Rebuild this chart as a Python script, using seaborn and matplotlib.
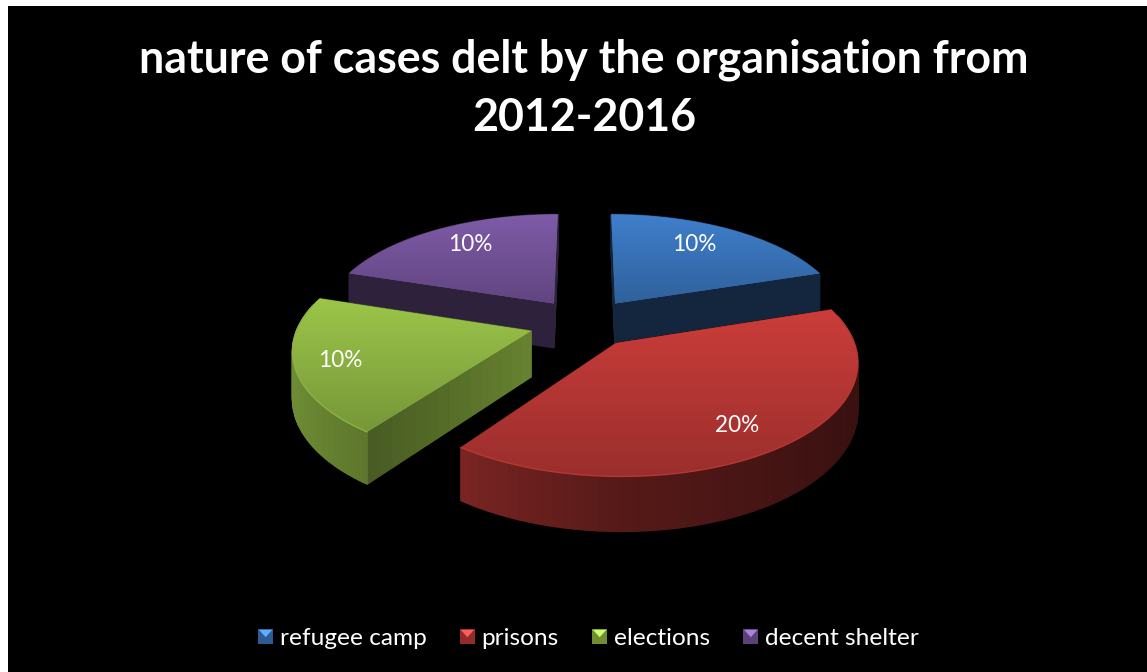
import numpy as np
import seaborn as sns
import matplotlib
matplotlib.use("Agg")
import matplotlib.pyplot as plt
from matplotlib.legend_handler import HandlerBase
from matplotlib.patches import Patch, Polygon, Rectangle
from matplotlib.path import Path
from matplotlib.transforms import Transform

# -----------------------------
# DATA
# -----------------------------
categories = ["refugee camp", "prisons", "elections", "decent shelter"]
cases = [10, 20, 10, 10]
title = "nature of cases delt by the organisation from\n2012-2016"

# -----------------------------
# SETTINGS
# -----------------------------
W, H = 1147, 672
CX, CY = 584.5, 323       # pie centre in pixels
RADIUS = 232
SQUASH = 0.463
PERSP = 0.146
DEPTH = 45.5
EXPLODE = [0.23, 0.225, 0.24, 0.23]
LABEL_SHIFT = [(-14.5, 0), (-3.5, -6), (-7, -4), (10, 0)]

top_colors = sns.color_palette(["#3F7FCC", "#CB3D3A", "#9CC64A", "#7F5BA8"])
# shade of the two straight walls, outer and inner end
cut_shades = [(0.30, 0.30), (0.30, 0.30), (0.46, 0.66), (0.36, 0.36)]
GRAD_LOW = 0.76

sns.set_theme(style="white")
plt.rcParams["font.family"] = ["Lato", "DejaVu Sans"]


def project(x, y, z=0.0):
    w = 1 + PERSP * np.asarray(y) / RADIUS
    return CX + np.asarray(x) / w, CY - SQUASH * np.asarray(y) / w + z * DEPTH / w


class Tilt(Transform):
    """Flat pie plane to picture pixels, with a little perspective."""
    input_dims = 2
    output_dims = 2

    def transform_non_affine(self, xy):
        px, py = project(xy[:, 0], xy[:, 1])
        return np.column_stack([px, py])

    def transform_path_non_affine(self, path):
        verts = np.vstack(path.to_polygons(closed_only=True))
        return Path(self.transform_non_affine(verts))


class BevelSquare(HandlerBase):
    def create_artists(self, legend, orig, xd, yd, width, height, fontsize, trans):
        s = 10.8
        y0 = (height - s) / 2 - yd
        color = np.array(orig.get_facecolor()[:3])
        base = Rectangle((0, y0), s, s, facecolor=color * 0.72, edgecolor="none", transform=trans)
        tri = Polygon([(0.6, y0 + s - 0.6), (s - 0.6, y0 + s - 0.6), (s / 2, y0 + s / 2 - 0.5)],
                      facecolor=np.minimum(color * 1.2 + 0.08, 1), edgecolor="none", transform=trans)
        return [base, tri]


def wall_shade(theta):
    return np.interp(np.cos(np.radians(theta)), [-1, -0.59, 0, 1], [0.72, 0.60, 0.42, 0.27])


# -----------------------------
# FIGURE
# -----------------------------
fig = plt.figure(figsize=(W / 100, H / 100), dpi=100, facecolor="white")
ax = fig.add_axes([8 / W, 0, (W - 8) / W, (H - 6) / H])
ax.set_facecolor("black")

total = sum(cases)
wedges, _, autotexts = ax.pie(
    cases,
    explode=[e * RADIUS for e in EXPLODE],
    startangle=90,
    counterclock=False,
    radius=RADIUS,
    frame=True,
    autopct=lambda p: f"{p * total / 100:.0f}%",
    pctdistance=0.78,
    wedgeprops={"linewidth": 0},
    textprops={"color": "white", "fontsize": 16.3},
)
tilt = Tilt() + ax.transData

# back slices first
order = sorted(range(len(wedges)), key=lambda i: -wedges[i].center[1])
for z, i in enumerate(order):
    wedge = wedges[i]
    cx, cy = wedge.center
    t1, t2 = wedge.theta1, wedge.theta2
    zbase = 10 + z * 10
    top = np.array(top_colors[i])

    # straight walls and the curved wall, far ones first
    pieces = []
    outer, inner = cut_shades[i]
    for theta in (t1, t2):
        ex, ey = cx + RADIUS * np.cos(np.radians(theta)), cy + RADIUS * np.sin(np.radians(theta))
        steps = np.linspace(0, 1, 16)
        for a, b in zip(steps[:-1], steps[1:]):
            xs = np.array([cx + (ex - cx) * a, cx + (ex - cx) * b])
            ys = np.array([cy + (ey - cy) * a, cy + (ey - cy) * b])
            shade = inner + (outer - inner) * (a + b) / 2
            pieces.append((ys.mean(), xs, ys, top * shade))
    thetas = np.linspace(t1, t2, 61)
    for a, b in zip(thetas[:-1], thetas[1:]):
        xs = cx + RADIUS * np.cos(np.radians([a, b]))
        ys = cy + RADIUS * np.sin(np.radians([a, b]))
        pieces.append((ys.mean(), xs, ys, top * wall_shade((a + b) / 2)))
    pieces.sort(key=lambda p: -p[0])
    for _, xs, ys, color in pieces:
        x_top, y_top = project(xs, ys)
        x_low, y_low = project(xs, ys, 1.0)
        ax.fill(np.r_[x_top, x_low[::-1]], np.r_[y_top, y_low[::-1]],
                facecolor=color, edgecolor=color, linewidth=1.0, zorder=zbase)

    # top face: the pie wedge itself with a vertical gradient clipped to it
    wedge.set_transform(tilt)
    wedge.set_facecolor(top * (1 + GRAD_LOW) / 2)
    wedge.set_zorder(zbase + 1)
    px, py = project(*wedge.get_path().vertices.T)
    ramp = np.linspace(1, GRAD_LOW, 256)[:, None, None] * top[None, None, :]
    im = ax.imshow(ramp, extent=[px.min(), px.max(), py.max(), py.min()], aspect="auto",
                   interpolation="bilinear", zorder=zbase + 2)
    im.set_clip_path(wedge)

    # lighter lip along the rim, only on the near side
    edge_t = np.linspace(t1, t2, 80)
    edge_t = edge_t[np.sin(np.radians(edge_t)) < 0.25]
    if len(edge_t):
        rx, ry = project(cx + RADIUS * np.cos(np.radians(edge_t)), cy + RADIUS * np.sin(np.radians(edge_t)))
        lip = top * (GRAD_LOW + 0.14)
        ax.plot(rx, ry, color=lip, lw=1.0, zorder=zbase + 3)

    lx, ly = autotexts[i].get_position()
    autotexts[i].set_position((lx + LABEL_SHIFT[i][0], ly + LABEL_SHIFT[i][1]))
    autotexts[i].set_transform(tilt)
    autotexts[i].set_zorder(100)

ax.set_xlim(8, W)
ax.set_ylim(H, 6)
ax.set_aspect("auto")
ax.set_xticks([])
ax.set_yticks([])
sns.despine(ax=ax, left=True, bottom=True)

ax.text(CX - 0.5, 89, title, color="white", fontsize=32.2, fontweight="bold",
        ha="center", va="center", linespacing=1.46, zorder=100)

handles = [Patch(facecolor=c, label=n) for c, n in zip(top_colors, categories)]
ax.legend(handles=handles, ncol=4, frameon=False, labelcolor="white", fontsize=17.6,
          handler_map={Patch: BevelSquare()}, handlelength=0.61, handleheight=0.7,
          handletextpad=0.28, columnspacing=1.36, loc="center",
          bbox_to_anchor=(588.5, 638.5), bbox_transform=ax.transData, borderpad=0)

fig.savefig("out.png", dpi=100, facecolor="white")
